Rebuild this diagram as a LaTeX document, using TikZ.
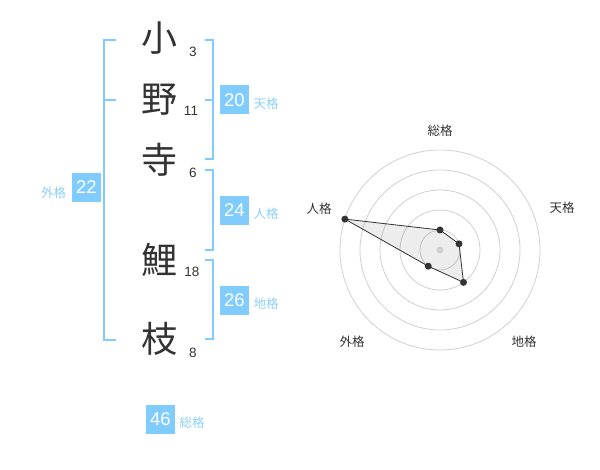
\documentclass[tikz,border=0pt]{standalone}
\usepackage{fontspec}
\usetikzlibrary{calc}
\setmainfont{Liberation Sans}
\newfontfamily\cjk{Noto Sans CJK JP}
\definecolor{skyb}{HTML}{80CCFF}
\definecolor{labb}{HTML}{8CD0FA}
\definecolor{ink}{HTML}{333333}
\definecolor{ring}{HTML}{D0D0D0}
\begin{document}
\begin{tikzpicture}[x=1pt,y=-1pt,
  kanji/.style={font=\cjk\fontsize{36}{36}\selectfont, text=ink, inner sep=0pt},
  strokes/.style={font=\fontsize{13.5}{14}\selectfont, text=ink, inner sep=0pt},
  scorebox/.style={fill=skyb, text=white, minimum width=29pt, minimum height=29pt, inner sep=0pt, font=\fontsize{18.5}{19}\selectfont},
  kaku/.style={font=\cjk\fontsize{12.5}{13}\selectfont, text=labb, inner sep=0pt},
  bracket/.style={draw=skyb, line width=2pt},
  axislab/.style={font=\cjk\fontsize{12.5}{13}\selectfont, text=ink, inner sep=0pt},
  ringline/.style={draw=ring, line width=0.8pt},
  dot/.style={circle, fill=ink, inner sep=0pt, minimum size=7pt}
]
\useasboundingbox (0,0) rectangle (600,470);
\fill[white] (0,0) rectangle (600,470);

% name characters
\node[kanji] (c1) at (159,38) {小};
\node[kanji] (c2) at (159,100) {野};
\node[kanji] (c3) at (159,160) {寺};
\node[kanji] (c4) at (159,260) {鯉};
\node[kanji] (c5) at (159,339) {枝};
% stroke counts
\node[strokes] (n1) at (193,52) {3};
\node[strokes] (n2) at (191,111) {11};
\node[strokes] (n3) at (193,172.5) {6};
\node[strokes] (n4) at (192,272) {18};
\node[strokes] (n5) at (193,353) {8};

% left bracket (gaikaku)
\draw[bracket] (116,40) -- (104,40) -- (104,340) -- (116,340);
\draw[bracket] (104,100) -- (116,100);
\node[scorebox] (b22) at (86.5,187.5) {22};
\node[kaku] (l22) at (53.5,193) {外格};

% right brackets
\draw[bracket] (205,40) -- (213,40) -- (213,159) -- (205,159);
\draw[bracket] (205,100) -- (213,100);
\node[scorebox] (b20) at (234.5,100) {20};
\node[kaku] (l20) at (266,103.5) {天格};

\draw[bracket] (205,170) -- (213,170) -- (213,250) -- (205,250);
\node[scorebox] (b24) at (234.5,210.5) {24};
\node[kaku] (l24) at (266,214) {人格};

\draw[bracket] (205,260) -- (213,260) -- (213,339) -- (205,339);
\node[scorebox] (b26) at (234.5,300.5) {26};
\node[kaku] (l26) at (266,304) {地格};

\node[scorebox] (b46) at (160.5,419.5) {46};
\node[kaku] (l46) at (192,423) {総格};

% radar chart
\coordinate (O) at (440,250);
\foreach \r in {20,40,60,80,100} \draw[ringline] (O) circle[radius=\r];
\coordinate (pS) at ($(O)+(0,-20)$);
\coordinate (pT) at ($(O)+(19.02,-6.18)$);
\coordinate (pC) at ($(O)+(23.51,32.36)$);
\coordinate (pG) at ($(O)+(-11.76,16.18)$);
\coordinate (pJ) at ($(O)+(-95.11,-30.90)$);
\fill[black, fill opacity=0.07] (pS) -- (pT) -- (pC) -- (pG) -- (pJ) -- cycle;
\draw[ink, line width=0.8pt] (pS) -- (pT) -- (pC) -- (pG) -- (pJ) -- cycle;
\node[circle, fill=ring, inner sep=0pt, minimum size=7pt] (ctr) at (O) {};
\foreach \p in {pS,pT,pC,pG,pJ} \node[dot] at (\p) {};

\node[axislab] (aS) at (440,130.5) {総格};
\node[axislab] (aT) at (562,208) {天格};
\node[axislab] (aC) at (524,342) {地格};
\node[axislab] (aG) at (352,342) {外格};
\node[axislab] (aJ) at (319,209) {人格};
\end{tikzpicture}
\end{document}
